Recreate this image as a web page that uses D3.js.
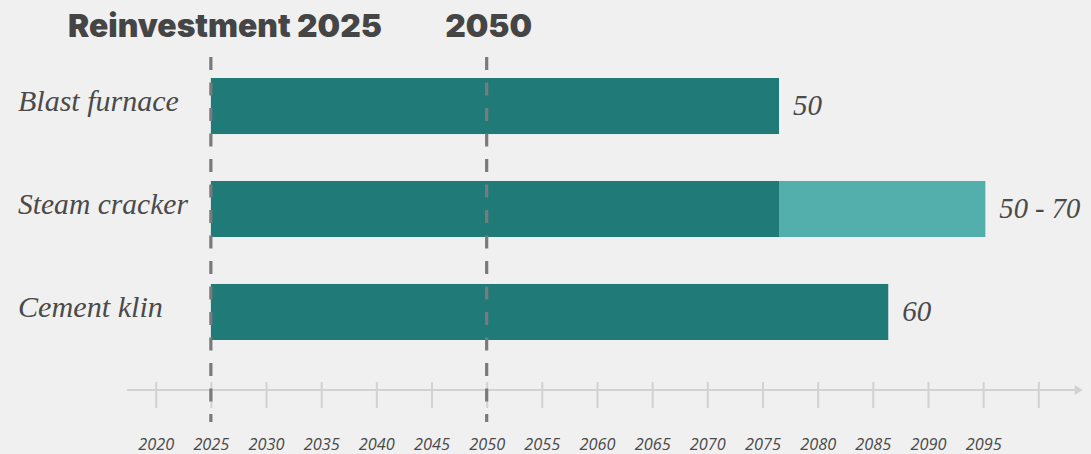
<!DOCTYPE html>
<html><head><meta charset="utf-8">
<script src="https://cdn.jsdelivr.net/npm/d3@7"></script>
<style>
html,body{margin:0;padding:0;background:#f0f0f0;}
svg{display:block;}
</style></head>
<body>
<svg id="chart" width="1091" height="454"></svg>
<script>
// ---- data ----
const categories = ["Blast furnace", "Steam cracker", "Cement klin"];
const startYear = [2025, 2025, 2025];
const endLow = [2076.5, 2076.5, 2086.4];     // end of dark bar (as drawn)
const endHigh = [2076.5, 2095.2, 2086.4];    // end of light extension (as drawn)
const valueLabels = ["50", "50 - 70", "60"];
const tickYears = [2020,2025,2030,2035,2040,2045,2050,2055,2060,2065,2070,2075,2080,2085,2090,2095,2100];
const tickLabels = ["2020","2025","2030","2035","2040","2045","2050","2055","2060","2065","2070","2075","2080","2085","2090","2095",""];
const markerYears = [2025, 2050];
const markerLabels = ["Reinvestment 2025", "2050"];

// ---- layout ----
const svg = d3.select("#chart");
const x = d3.scaleLinear().domain([2020, 2100]).range([155.7, 1038.3]);
const y = d3.scaleBand().domain(categories).range([26.5, 391.5]).paddingInner(0.456).paddingOuter(0.5);

const dark = "#1f7a78", light = "#52afab", textCol = "#4a4a4a";
const serif = "'Liberation Serif', serif";

function fitText(sel, target) {
  const n = sel.node(); const w = n.getComputedTextLength();
  const fs = parseFloat(sel.attr("font-size"));
  sel.attr("font-size", fs * target / w);
}

// axis
const axisY = 390;
const gAxis = svg.append("g").attr("transform", `translate(0,${axisY})`);
gAxis.append("line").attr("x1", x(2017.4)).attr("x2", x(2103.6))
  .attr("stroke", "#d2d2d2").attr("stroke-width", 2);
gAxis.append("path")
  .attr("d", `M${x(2103.3)},-5 L${x(2103.3)+8},0 L${x(2103.3)},5 Z`).attr("fill", "#d2d2d2");
const axis = d3.axisBottom(x).tickValues(tickYears).tickSize(18)
  .tickFormat(d => tickLabels[tickYears.indexOf(d)]);
const ga = gAxis.append("g").call(axis);
ga.attr("font-size", null).attr("font-family", null);
ga.select(".domain").remove();
ga.selectAll(".tick line").attr("y1", -8).attr("stroke", "#d2d2d2").attr("stroke-width", 2);
ga.selectAll(".tick text").attr("y", 60).attr("dy", 0)
  .attr("font-family", "'Open Sans', sans-serif").attr("font-style", "italic")
  .attr("font-size", 15).attr("fill", textCol);
const tt = ga.select(".tick text");
const tw = tt.node().getComputedTextLength();
ga.selectAll(".tick text").attr("font-size", 15 * 36 / tw);

// bars
const gBars = svg.append("g");
categories.forEach((c, i) => {
  if (endHigh[i] > endLow[i]) {
    gBars.append("rect").attr("x", x(endLow[i])).attr("y", y(c))
      .attr("width", x(endHigh[i]) - x(endLow[i])).attr("height", y.bandwidth()).attr("fill", light);
  }
  gBars.append("rect").attr("x", x(startYear[i])).attr("y", y(c))
    .attr("width", x(endLow[i]) - x(startYear[i])).attr("height", y.bandwidth()).attr("fill", dark);
});

// category labels
const catWidths = [161, 170, 145];
categories.forEach((c, i) => {
  const t = svg.append("text").attr("x", 18).attr("y", y(c) + y.bandwidth()/2 + 5)
    .attr("font-family", serif).attr("font-style", "italic").attr("font-size", 26)
    .attr("fill", textCol).text(c);
  fitText(t, catWidths[i]);
});

// value labels
const valWidths = [29, 81, 29];
categories.forEach((c, i) => {
  const t = svg.append("text").attr("x", x(endHigh[i]) + 14).attr("y", y(c) + y.bandwidth()/2 + 9)
    .attr("font-family", serif).attr("font-style", "italic").attr("font-size", 26)
    .attr("fill", textCol).text(valueLabels[i]);
  fitText(t, valWidths[i]);
});

// dashed markers
markerYears.forEach(yr => {
  svg.append("line").attr("x1", x(yr)).attr("x2", x(yr)).attr("y1", 57).attr("y2", 422)
    .attr("stroke", "#7a7a7a").attr("stroke-width", 3.2).attr("stroke-dasharray", "13,12.5");
});

// marker titles
const t1 = svg.append("text").attr("x", 382).attr("y", 37).attr("text-anchor", "end")
  .attr("font-family", "Inter, Roboto, sans-serif").attr("font-weight", 900).attr("font-size", 28)
  .attr("fill", "#454545").text(markerLabels[0]);
fitText(t1, 314);
const t2 = svg.append("text").attr("x", x(markerYears[1]) + 2).attr("y", 37).attr("text-anchor", "middle")
  .attr("font-family", "Inter, Roboto, sans-serif").attr("font-weight", 900).attr("font-size", 28)
  .attr("fill", "#454545").text(markerLabels[1]);
t2.attr("font-size", t1.attr("font-size"));
</script>
</body></html>
